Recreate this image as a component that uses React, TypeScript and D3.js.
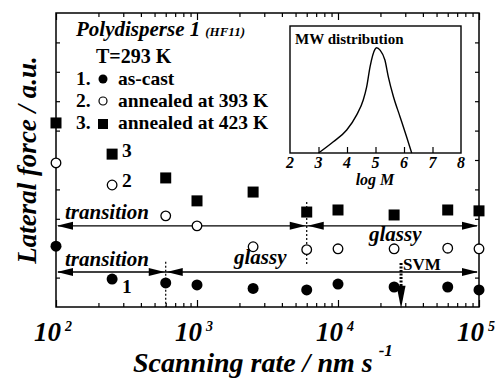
import { useEffect, useRef } from 'react';
import * as d3 from 'd3';

// scanning rates, nm/s
const rates = [100, 250, 600, 1000, 2500, 6000, 10000, 25000, 60000, 100000];
// lateral force (a.u.)
const asCast = [2.07, 0.95, 0.82, 0.75, 0.63, 0.58, 0.78, 0.68, 0.68, 0.58];
const annealed393 = [4.9, 4.15, 3.1, 2.76, 2.05, 1.95, 1.98, 1.98, 2.0, 1.98];
const annealed423 = [6.26, 5.2, 4.39, 3.61, 3.91, 3.23, 3.3, 3.13, 3.3, 3.27];

const decades = [100, 1000, 10000, 100000];
const decadeExp = ['2', '3', '4', '5'];
const forceTicks = [1, 2, 3, 4, 5, 6, 7, 8, 9];

// inset: MW distribution
const logM = [3.0, 3.52, 3.99, 4.34, 4.57, 4.69, 4.81, 4.98, 5.04, 5.16, 5.33, 5.45, 5.63, 5.86, 6.09, 6.27];
const mwFrac = [0, 0.089, 0.181, 0.3, 0.417, 0.52, 0.68, 0.816, 0.829, 0.81, 0.732, 0.6, 0.443, 0.286, 0.128, 0];
const insetTicks = [2, 3, 4, 5, 6, 7, 8];

// regime arrows: level, split rate, dotted span
const arrowLevels = [2.76, 1.19];
const arrowSplits = [6000, 600];
const splitTop = [3.57, 1.54];
const splitBottom = [1.43, 0];
const svmRate = 28000;

const serif = 'Liberation Serif';

export default function App() {
  const svgRef = useRef<SVGSVGElement>(null);

  useEffect(() => {
    if (!svgRef.current) return;
    const svg = d3.select(svgRef.current);
    svg.selectAll('*').remove();

    const width = 500;
    const height = 378;
    const margin = { top: 13, right: 21, bottom: 71, left: 56 };

    svg.attr('width', width).attr('height', height).attr('viewBox', `0 0 ${width} ${height}`);
    svg.append('rect').attr('width', width).attr('height', height).attr('fill', '#fff');

    const x = d3.scaleLog().domain([100, 100000]).range([margin.left, width - margin.right]);
    const y = d3.scaleLinear().domain([0, 10]).range([height - margin.bottom, margin.top]);
    const [x0, x1] = x.range();
    const [y0, y1] = y.range();

    const g = svg.append('g').style('font-family', serif);

    // minor log ticks
    const minor: number[] = [];
    decades.slice(0, 3).forEach((d) => {
      for (let k = 2; k <= 9; k++) minor.push(d * k);
    });

    const axisStyle = (sel: d3.Selection<SVGGElement, unknown, null, undefined>) => {
      sel.select('.domain').remove();
      sel.selectAll('.tick line').attr('stroke', '#000').attr('stroke-width', 1.2);
      sel.selectAll('.tick text').remove();
    };

    g.append('g').attr('transform', `translate(0,${y0})`)
      .call(d3.axisBottom(x).tickValues(minor).tickSize(-4).tickFormat(() => '')).call(axisStyle);
    g.append('g').attr('transform', `translate(0,${y0})`)
      .call(d3.axisBottom(x).tickValues(decades).tickSize(-7).tickFormat(() => '')).call(axisStyle);
    g.append('g').attr('transform', `translate(0,${y1})`)
      .call(d3.axisTop(x).tickValues(minor).tickSize(-4).tickFormat(() => '')).call(axisStyle);
    g.append('g').attr('transform', `translate(0,${y1})`)
      .call(d3.axisTop(x).tickValues(decades).tickSize(-7).tickFormat(() => '')).call(axisStyle);
    g.append('g').attr('transform', `translate(${x0},0)`)
      .call(d3.axisLeft(y).tickValues(forceTicks).tickSize(-4).tickFormat(() => '')).call(axisStyle);
    g.append('g').attr('transform', `translate(${x1},0)`)
      .call(d3.axisRight(y).tickValues(forceTicks).tickSize(-4).tickFormat(() => '')).call(axisStyle);

    g.append('rect')
      .attr('x', x0).attr('y', y1).attr('width', x1 - x0).attr('height', y0 - y1)
      .attr('fill', 'none').attr('stroke', '#000').attr('stroke-width', 1.5);

    // decade labels
    decades.forEach((d, i) => {
      const t = g.append('text')
        .attr('x', x(d) - 3).attr('y', 341)
        .attr('text-anchor', 'middle')
        .attr('font-weight', 'bold').attr('font-style', 'italic');
      t.append('tspan').attr('font-size', 27).text('10');
      t.append('tspan').attr('font-size', 14).attr('dx', 4).attr('dy', -10).text(decadeExp[i]);
    });

    // axis titles
    const xt = g.append('text').attr('x', 133).attr('y', 372)
      .attr('font-weight', 'bold').attr('font-style', 'italic');
    xt.append('tspan').attr('font-size', 28).text('Scanning rate / nm s');
    xt.append('tspan').attr('font-size', 17).attr('dx', 6).attr('dy', -16).text('-1');

    g.append('text')
      .attr('transform', `translate(36,${(y0 + y1) / 2}) rotate(-90)`)
      .attr('text-anchor', 'middle')
      .attr('font-size', 27).attr('font-weight', 'bold').attr('font-style', 'italic')
      .text('Lateral force / a.u.');

    // regime arrows
    const head = (tip: number, yy: number, dir: number) => {
      g.append('path')
        .attr('d', `M${tip},${yy} L${tip - dir * 16},${yy - 4} L${tip - dir * 16},${yy + 4} Z`)
        .attr('fill', '#000');
    };
    arrowLevels.forEach((lv, i) => {
      const yy = y(lv);
      const xs = x(arrowSplits[i]);
      g.append('line').attr('x1', x0 + 2).attr('x2', x1 - 2).attr('y1', yy).attr('y2', yy)
        .attr('stroke', '#000').attr('stroke-width', 1.3);
      head(x0 + 1, yy, -1);
      head(xs - 1, yy, 1);
      head(xs + 1, yy, -1);
      head(x1 - 1, yy, 1);
      g.append('line').attr('x1', xs).attr('x2', xs)
        .attr('y1', y(splitTop[i])).attr('y2', y(splitBottom[i]))
        .attr('stroke', '#000').attr('stroke-width', 1.2).attr('stroke-dasharray', '2,2');
    });

    const italicBold = (tx: number, ty: number, s: string, size = 21) =>
      g.append('text').attr('x', tx).attr('y', ty)
        .attr('font-size', size).attr('font-weight', 'bold').attr('font-style', 'italic').text(s);

    italicBold(65, 219, 'transition');
    italicBold(65, 266, 'transition');
    italicBold(369, 241, 'glassy');
    italicBold(234, 264, 'glassy');

    // SVM marker
    const xs = x(svmRate);
    g.append('line').attr('x1', xs).attr('x2', xs).attr('y1', y(1.5)).attr('y2', y(0.62))
      .attr('stroke', '#000').attr('stroke-width', 3).attr('stroke-dasharray', '2,1.5');
    g.append('path')
      .attr('d', `M${xs - 4.5},${y(0.72)} L${xs + 4.5},${y(0.72)} L${xs},${y(-0.05)} Z`)
      .attr('fill', '#000');
    g.append('text').attr('x', xs + 2).attr('y', 270)
      .attr('font-size', 17).attr('font-weight', 'bold').text('SVM');

    // data markers
    rates.forEach((r, i) => {
      g.append('rect')
        .attr('x', x(r) - 5.5).attr('y', y(annealed423[i]) - 5.5)
        .attr('width', 11).attr('height', 11).attr('fill', '#000');
      g.append('circle')
        .attr('cx', x(r)).attr('cy', y(annealed393[i])).attr('r', 4.8)
        .attr('fill', '#fff').attr('stroke', '#000').attr('stroke-width', 1.3);
      g.append('circle')
        .attr('cx', x(r)).attr('cy', y(asCast[i])).attr('r', 5.5).attr('fill', '#000');
    });

    const bold = (tx: number, ty: number, s: string, size = 19.5) =>
      g.append('text').attr('x', tx).attr('y', ty)
        .attr('font-size', size).attr('font-weight', 'bold').text(s);

    bold(122, 157, '3');
    bold(122, 187, '2');
    bold(122, 293, '1');

    // legend
    const title = g.append('text').attr('x', 76).attr('y', 36)
      .attr('font-weight', 'bold').attr('font-style', 'italic');
    title.append('tspan').attr('font-size', 21).text('Polydisperse 1');
    title.append('tspan').attr('font-size', 13).attr('dx', 5).text('(HF11)');

    bold(96, 63, 'T=293 K', 20);
    bold(76, 85, '1.');
    bold(76, 107, '2.');
    bold(76, 129, '3.');
    bold(118, 85, 'as-cast');
    bold(118, 107, 'annealed at 393 K');
    bold(118, 129, 'annealed at 423 K');
    g.append('circle').attr('cx', 103).attr('cy', 79).attr('r', 4.5).attr('fill', '#000');
    g.append('circle').attr('cx', 103).attr('cy', 101).attr('r', 4)
      .attr('fill', '#fff').attr('stroke', '#000').attr('stroke-width', 1.2);
    g.append('rect').attr('x', 98).attr('y', 119).attr('width', 10).attr('height', 10).attr('fill', '#000');

    // inset
    const ix = d3.scaleLinear().domain([2, 8]).range([290, 461]);
    const iy = d3.scaleLinear().domain([0, 1]).range([153, 26]);
    const inset = g.append('g');
    inset.append('rect')
      .attr('x', 290).attr('y', 26).attr('width', 171).attr('height', 127)
      .attr('fill', '#fff').attr('stroke', '#000').attr('stroke-width', 1.4);
    inset.append('g').attr('transform', 'translate(0,153)')
      .call(d3.axisBottom(ix).tickValues(insetTicks.slice(1, -1)).tickSize(-6).tickFormat(() => ''))
      .call(axisStyle);
    insetTicks.forEach((t) => {
      inset.append('text').attr('x', ix(t)).attr('y', 168)
        .attr('text-anchor', 'middle').attr('font-size', 16)
        .attr('font-weight', 'bold').attr('font-style', 'italic').text(String(t));
    });
    inset.append('text').attr('x', 375).attr('y', 185).attr('text-anchor', 'middle')
      .attr('font-size', 16).attr('font-weight', 'bold').attr('font-style', 'italic').text('log M');
    inset.append('text').attr('x', 295).attr('y', 44)
      .attr('font-size', 15).attr('font-weight', 'bold').text('MW distribution');

    const line = d3.line<number>()
      .x((_, i) => ix(logM[i]))
      .y((d) => iy(d))
      .curve(d3.curveMonotoneX);
    inset.append('path').attr('d', line(mwFrac) || '')
      .attr('fill', 'none').attr('stroke', '#000').attr('stroke-width', 1.4);
  }, []);

  return (
    <svg ref={svgRef} style={{ position: 'absolute', left: 0, top: 0, display: 'block' }} />
  );
}
